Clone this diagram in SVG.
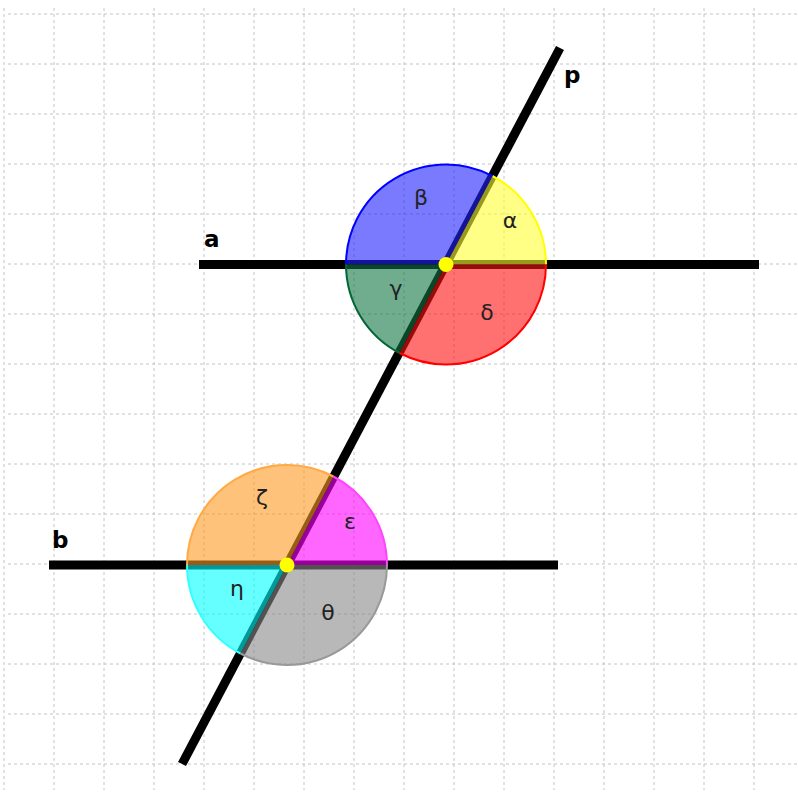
<svg xmlns="http://www.w3.org/2000/svg" width="798" height="794" viewBox="0 0 798 794">
<style>
.grid line{stroke:#c4c4c4;stroke-width:1;stroke-dasharray:3 3}
.ln{stroke:#000;stroke-width:9;stroke-linecap:butt}
.sec{stroke:none;fill-opacity:0.6}
.arc{fill:none;stroke-width:2}
.gk{font-family:"DejaVu Sans",sans-serif;font-size:22px;fill:#222;text-anchor:middle}
.nm{font-family:"DejaVu Sans",sans-serif;font-size:23px;font-weight:bold;fill:#000}
.dot{fill:#ffff00}
</style>
<rect width="798" height="794" fill="#fff"/>
<g class="grid">
<line x1="4" y1="8" x2="4" y2="790"/><line x1="54" y1="8" x2="54" y2="790"/><line x1="104" y1="8" x2="104" y2="790"/><line x1="154" y1="8" x2="154" y2="790"/><line x1="204" y1="8" x2="204" y2="790"/><line x1="254" y1="8" x2="254" y2="790"/><line x1="304" y1="8" x2="304" y2="790"/><line x1="354" y1="8" x2="354" y2="790"/><line x1="404" y1="8" x2="404" y2="790"/><line x1="454" y1="8" x2="454" y2="790"/><line x1="504" y1="8" x2="504" y2="790"/><line x1="554" y1="8" x2="554" y2="790"/><line x1="604" y1="8" x2="604" y2="790"/><line x1="654" y1="8" x2="654" y2="790"/><line x1="704" y1="8" x2="704" y2="790"/><line x1="754" y1="8" x2="754" y2="790"/>
<line x1="8" y1="14" x2="798" y2="14"/><line x1="8" y1="64" x2="798" y2="64"/><line x1="8" y1="114" x2="798" y2="114"/><line x1="8" y1="164" x2="798" y2="164"/><line x1="8" y1="214" x2="798" y2="214"/><line x1="8" y1="264" x2="798" y2="264"/><line x1="8" y1="314" x2="798" y2="314"/><line x1="8" y1="364" x2="798" y2="364"/><line x1="8" y1="414" x2="798" y2="414"/><line x1="8" y1="464" x2="798" y2="464"/><line x1="8" y1="514" x2="798" y2="514"/><line x1="8" y1="564" x2="798" y2="564"/><line x1="8" y1="614" x2="798" y2="614"/><line x1="8" y1="664" x2="798" y2="664"/><line x1="8" y1="714" x2="798" y2="714"/><line x1="8" y1="764" x2="798" y2="764"/>
</g>
<g id="connectors">
<line id="line-a" class="ln" x1="199" y1="264.5" x2="759" y2="264.5"/>
<line id="line-b" class="ln" x1="49" y1="565" x2="558" y2="565"/>
<line id="line-p" class="ln" x1="560" y1="48" x2="182" y2="764"/>
</g>
<g id="angles-top">
<g id="alpha"><path class="sec" fill="#ffff33" d="M446,264.5 L546,264.5 A100,100 0 0 0 492.5,176 Z"/><path class="arc" stroke="#ffff00" d="M546,264.5 A100,100 0 0 0 492.5,176"/></g>
<g id="beta"><path class="sec" fill="#2222ff" d="M446,264.5 L492.5,176 A100,100 0 0 0 346,264.5 Z"/><path class="arc" stroke="#0000ff" d="M492.5,176 A100,100 0 0 0 346,264.5"/></g>
<g id="gamma"><path class="sec" fill="#117744" d="M446,264.5 L346,264.5 A100,100 0 0 0 399.5,353 Z"/><path class="arc" stroke="#006633" d="M346,264.5 A100,100 0 0 0 399.5,353"/></g>
<g id="delta"><path class="sec" fill="#ff1111" d="M446,264.5 L399.5,353 A100,100 0 0 0 546,264.5 Z"/><path class="arc" stroke="#ff0000" d="M399.5,353 A100,100 0 0 0 546,264.5"/></g>
</g>
<g id="angles-bottom">
<g id="epsilon"><path class="sec" fill="#ff00ff" d="M287,565 L387,565 A100,100 0 0 0 333.5,476.5 Z"/><path class="arc" stroke="#ff44ff" d="M387,565 A100,100 0 0 0 333.5,476.5"/></g>
<g id="zeta"><path class="sec" fill="#ff9922" d="M287,565 L333.5,476.5 A100,100 0 0 0 187,565 Z"/><path class="arc" stroke="#ffaa44" d="M333.5,476.5 A100,100 0 0 0 187,565"/></g>
<g id="eta"><path class="sec" fill="#00ffff" d="M287,565 L187,565 A100,100 0 0 0 240.5,653.5 Z"/><path class="arc" stroke="#33ffff" d="M187,565 A100,100 0 0 0 240.5,653.5"/></g>
<g id="theta"><path class="sec" fill="#888888" d="M287,565 L240.5,653.5 A100,100 0 0 0 387,565 Z"/><path class="arc" stroke="#999999" d="M240.5,653.5 A100,100 0 0 0 387,565"/></g>
</g>
<g id="labels">
<text class="gk" x="421" y="205">β</text>
<text class="gk" x="510" y="228">α</text>
<text class="gk" x="396" y="296">γ</text>
<text class="gk" x="487" y="320">δ</text>
<text class="gk" x="262" y="505">ζ</text>
<text class="gk" x="350" y="529">ε</text>
<text class="gk" x="237" y="596">η</text>
<text class="gk" x="328" y="620">θ</text>
<text class="nm" x="204" y="247">a</text>
<text class="nm" x="52" y="548">b</text>
<text class="nm" x="564" y="83">p</text>
</g>
<g id="points">
<circle id="P1" class="dot" cx="446" cy="264.5" r="7.5"/>
<circle id="P2" class="dot" cx="287" cy="565" r="7.5"/>
</g>
</svg>
